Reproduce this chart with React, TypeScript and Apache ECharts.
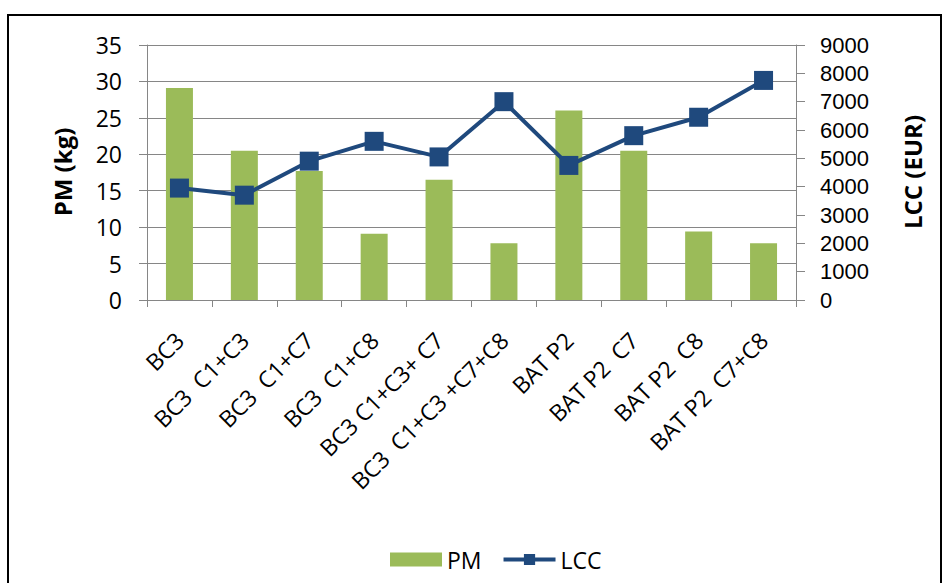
import React, { useEffect, useRef } from "react";
import * as echarts from "echarts";

const categories = [
  "BC3",
  "BC3  C1+C3",
  "BC3  C1+C7",
  "BC3  C1+C8",
  "BC3 C1+C3+ C7",
  "BC3  C1+C3 +C7+C8",
  "BAT P2",
  "BAT P2  C7",
  "BAT P2  C8",
  "BAT P2  C7+C8",
];
const pmValues = [29.1, 20.5, 17.7, 9.1, 16.5, 7.8, 26.0, 20.5, 9.4, 7.8];
const lccValues = [3950, 3700, 4900, 5600, 5050, 7000, 4750, 5800, 6450, 7750];
const leftAxisTitle = "PM (kg)";
const rightAxisTitle = "LCC (EUR)";

const FONT = "'Open Sans', 'Liberation Sans', sans-serif";
const FONT_R = "'Liberation Sans', 'Open Sans', sans-serif";
const GRAY = "#868686";
const FS = 23;

export default function App() {
  const ref = useRef<HTMLDivElement>(null);
  useEffect(() => {
    if (!ref.current) return;
    const chart = echarts.init(ref.current, undefined, { renderer: "svg" });
    chart.setOption({
      animation: false,
      backgroundColor: "#ffffff",
      textStyle: { fontFamily: FONT },
      grid: { left: 147, right: 149, top: 45, bottom: 283 },
      legend: {
        left: 385,
        top: 543,
        itemWidth: 52,
        itemHeight: 14,
        itemGap: 20,
        textStyle: { fontSize: FS, color: "#000", fontFamily: FONT },
        data: [
          { name: "PM", icon: "rect" },
          {
            name: "LCC",
            lineStyle: { width: 4, color: "#1F497D" },
            itemStyle: { color: "#1F497D" },
          },
        ],
      },
      graphic: [
        {
          type: "rect",
          shape: { x: 8, y: 15, width: 933, height: 620 },
          style: { fill: "none", stroke: "#000", lineWidth: 2 },
          silent: true,
        },
        {
          type: "text",
          x: 62,
          y: 172,
          rotation: Math.PI / 2,
          style: {
            text: leftAxisTitle,
            font: `bold 24px ${FONT}`,
            fill: "#000",
            align: "center",
            verticalAlign: "middle",
          },
        },
        {
          type: "text",
          x: 912,
          y: 172,
          rotation: Math.PI / 2,
          style: {
            text: rightAxisTitle,
            font: `bold 24px ${FONT}`,
            fill: "#000",
            align: "center",
            verticalAlign: "middle",
          },
        },
      ],
      xAxis: {
        type: "category",
        data: categories,
        boundaryGap: true,
        axisLine: { lineStyle: { color: GRAY, width: 1 } },
        axisTick: { show: true, length: 7, lineStyle: { color: GRAY } },
        axisLabel: {
          rotate: 45,
          interval: 0,
          fontSize: FS,
          color: "#000",
          margin: 36,
          fontFamily: FONT,
        },
      },
      yAxis: [
        {
          type: "value",
          min: 0,
          max: 35,
          interval: 5,
          position: "left",
          axisLine: { show: true, lineStyle: { color: GRAY } },
          axisTick: { show: true, length: 8, lineStyle: { color: GRAY } },
          axisLabel: { fontSize: FS, color: "#000", margin: 25, fontFamily: FONT },
          splitLine: { show: true, lineStyle: { color: GRAY, width: 1 } },
        },
        {
          type: "value",
          min: 0,
          max: 9000,
          interval: 1000,
          position: "right",
          axisLine: { show: true, lineStyle: { color: GRAY } },
          axisTick: { show: true, length: 9, lineStyle: { color: GRAY } },
          axisLabel: {
            fontSize: 22,
            color: "#000",
            margin: 24,
            fontFamily: FONT_R,
            formatter: (v: number) => String(v),
          },
          splitLine: { show: false },
        },
      ],
      series: [
        {
          name: "PM",
          type: "bar",
          yAxisIndex: 0,
          data: pmValues,
          barWidth: 27,
          itemStyle: { color: "#9BBB59" },
        },
        {
          name: "LCC",
          type: "line",
          yAxisIndex: 1,
          data: lccValues,
          symbol: "rect",
          symbolSize: 19,
          lineStyle: { color: "#1F497D", width: 4 },
          itemStyle: { color: "#1F497D" },
        },
      ],
    });
    return () => chart.dispose();
  }, []);
  return (
    <div
      ref={ref}
      style={{ position: "absolute", left: 0, top: 0, width: 945, height: 583 }}
    />
  );
}
